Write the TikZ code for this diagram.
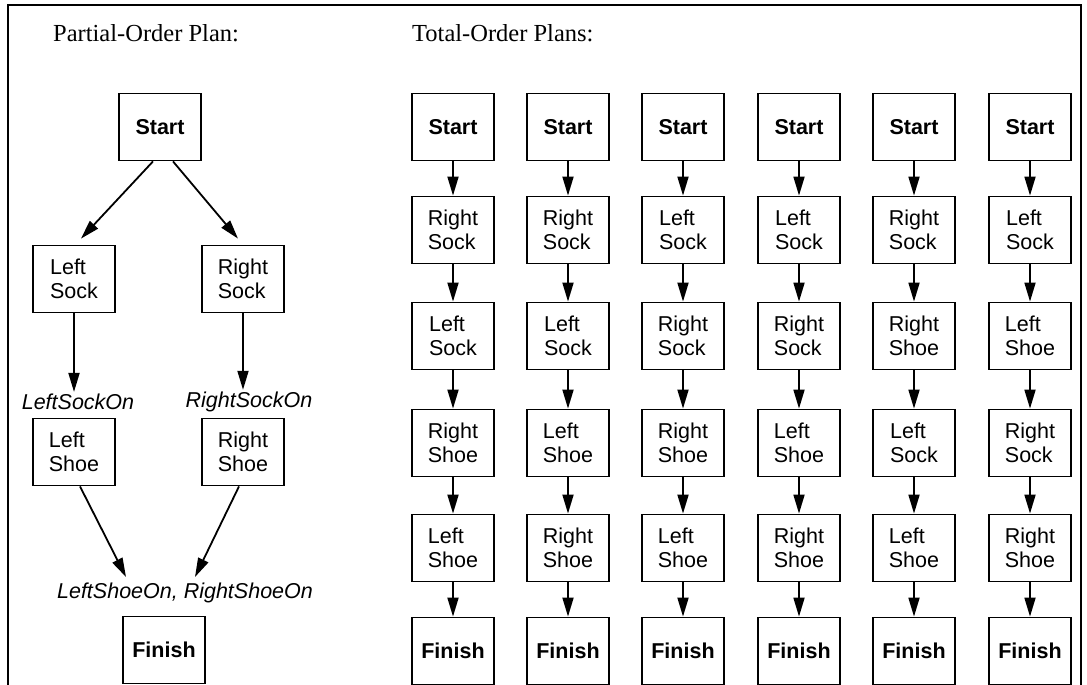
\documentclass[tikz,border=0pt]{standalone}
\usepackage{fontspec}
\setmainfont{Liberation Serif}
\setsansfont{Liberation Sans}
\usetikzlibrary{arrows.meta}
\begin{document}
\begin{tikzpicture}[x=1pt,y=-1pt,
    act/.style={draw,line width=1.8pt,minimum width=82pt,minimum height=67pt,inner sep=0pt,align=left,font=\sffamily\fontsize{21.5}{24.5}\selectfont},
    term/.style={act,font=\sffamily\bfseries\fontsize{21.5}{24.5}\selectfont},
    cond/.style={inner sep=2pt,font=\sffamily\itshape\fontsize{21.5}{24.5}\selectfont},
    head/.style={anchor=base west,inner sep=0pt,font=\fontsize{24.5}{28}\selectfont},
    arr/.style={line width=1.8pt,-{Triangle[length=19pt,width=11pt]}}]
    \useasboundingbox (0,0) rectangle (1087,685);
    \draw[line width=2.4pt] (8,695) -- (8,5) -- (1081,5) -- (1081,695);
    \node[head] (po-title) at (53,42) {Partial-Order Plan:};
    \node[head] (to-title) at (412,42) {Total-Order Plans:};
    \node[term] (po-start) at (160,127) {Start};
    \node[act] (po-lsock) at (74,279) {Left\\Sock};
    \node[act] (po-rsock) at (243,279) {Right\\Sock};
    \node[cond] (po-lsockon) at (78,402) {LeftSockOn};
    \node[cond] (po-rsockon) at (249,402) {RightSockOn};
    \node[act] (po-lshoe) at (74,452) {Left\\Shoe};
    \node[act] (po-rshoe) at (243,452) {Right\\Shoe};
    \node[cond] (po-shoeson) at (185,593) {LeftShoeOn, RightShoeOn};
    \node[term] (po-finish) at (164,650) {Finish};
    \coordinate (po-lmeet) at (126,577);
    \coordinate (po-rmeet) at (195,577);
    \draw[arr] ([xshift=-7pt]po-start.south) -- ([xshift=7pt,yshift=6pt]po-lsock.north);
    \draw[arr] ([xshift=13pt]po-start.south) -- ([xshift=-5pt,yshift=6pt]po-rsock.north);
    \draw[arr] (po-lsock.south) -- (po-lsock.south |- po-lsockon.north);
    \draw[arr] (po-rsock.south) -- (po-rsock.south |- po-rsockon.north);
    \draw[arr] ([xshift=6pt]po-lshoe.south) -- (po-lmeet);
    \draw[arr] ([xshift=-4pt]po-rshoe.south) -- (po-rmeet);
    \foreach \c/\x/\one/\two/\three/\four in {
        1/453/Right\\Sock/Left\\Sock/Right\\Shoe/Left\\Shoe,
        2/568/Right\\Sock/Left\\Sock/Left\\Shoe/Right\\Shoe,
        3/683/Left\\Sock/Right\\Sock/Right\\Shoe/Left\\Shoe,
        4/799/Left\\Sock/Right\\Sock/Left\\Shoe/Right\\Shoe,
        5/914/Right\\Sock/Right\\Shoe/Left\\Sock/Left\\Shoe,
        6/1030/Left\\Sock/Left\\Shoe/Right\\Sock/Right\\Shoe}{
        \node[term] (to\c-start) at (\x,127) {Start};
        \node[act] (to\c-a) at (\x,230) {\one};
        \node[act] (to\c-b) at (\x,336) {\two};
        \node[act] (to\c-c) at (\x,443) {\three};
        \node[act] (to\c-d) at (\x,548) {\four};
        \node[term] (to\c-finish) at (\x,651) {Finish};
        \draw[arr] (to\c-start) -- (to\c-a);
        \draw[arr] (to\c-a) -- (to\c-b);
        \draw[arr] (to\c-b) -- (to\c-c);
        \draw[arr] (to\c-c) -- (to\c-d);
        \draw[arr] (to\c-d) -- (to\c-finish);
    }
\end{tikzpicture}
\end{document}
